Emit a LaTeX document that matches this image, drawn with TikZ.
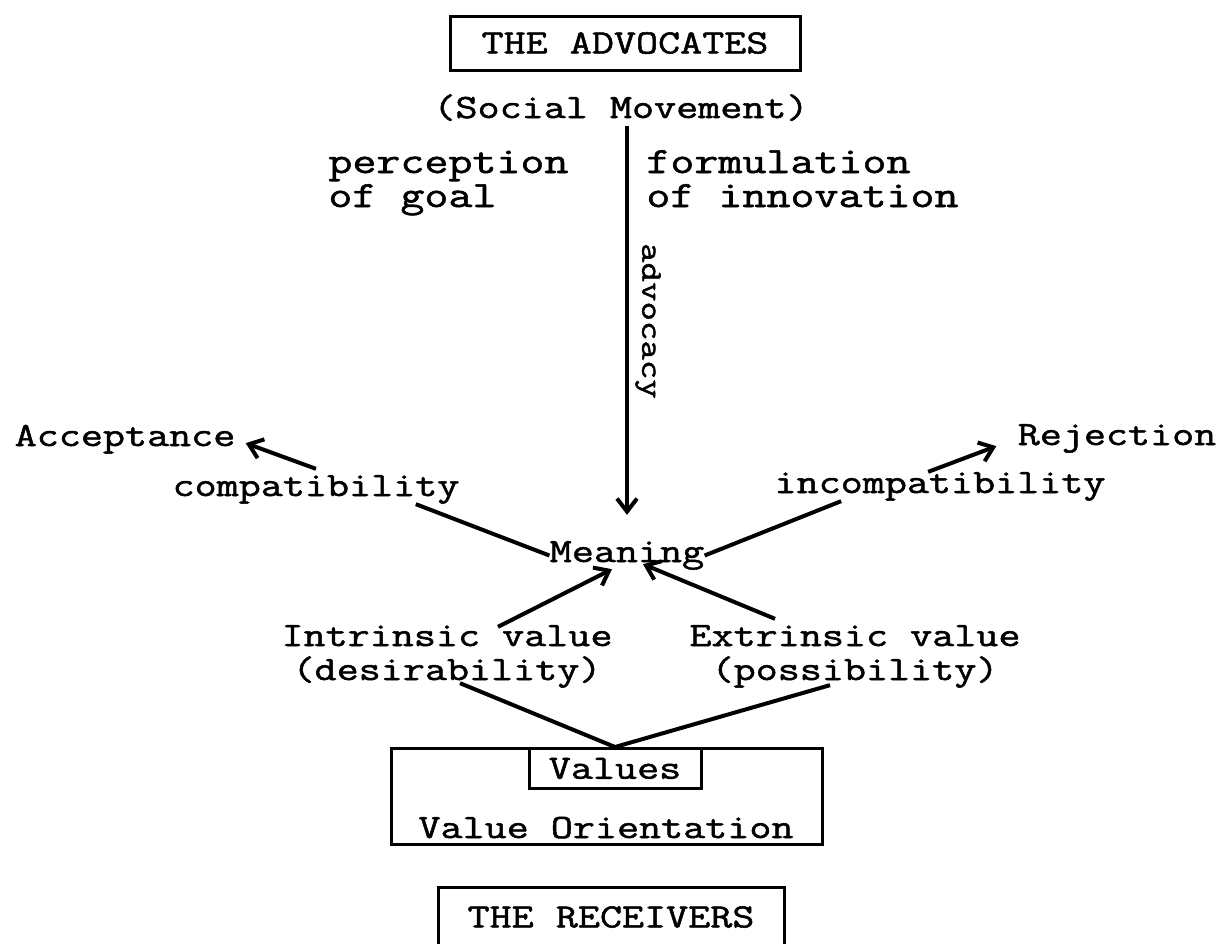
\documentclass[tikz,border=0pt]{standalone}
\usepackage{fontspec}
\newfontfamily\typewr{Latin Modern Mono}[FakeStretch=1.26, FakeBold=1.5]
\usetikzlibrary{arrows.meta,calc}
\setlength{\lineskiplimit}{-10pt}

\tikzset{
  txt/.style={font=\typewr\fontsize{17}{17}\selectfont, inner sep=0pt},
  toptxt/.style={font=\typewr\fontsize{18.5}{17}\selectfont, inner sep=0pt, align=left},
  box/.style={draw, line width=1.5pt, font=\typewr\fontsize{17}{17}\selectfont},
  arr/.style={line width=2pt, -{Straight Barb[length=6.5pt,width=10pt]}},
  ln/.style={line width=2pt},
}

\begin{document}
\begin{tikzpicture}[x=0.5pt,y=-0.5pt]
\useasboundingbox (0,0) rectangle (1224,943);

% the advocates
\node[box, minimum width=175pt, minimum height=27pt] (adv) at (625,43) {THE ADVOCATES};
\node[txt, anchor=base] (sm) at (621,118) {(Social Movement)};
\node[toptxt, anchor=base west] (perc) at (328,207) {perception\\of goal};
\node[toptxt, anchor=base west] (form) at (646,207) {formulation\\of innovation};
\node[txt, rotate=-90, font=\typewr\fontsize{15}{15}\selectfont] (advo) at (648,321) {advocacy};

% meaning and outcomes
\node[txt, anchor=base] (mean) at (627,562) {Meaning};
\node[txt, anchor=base] (acc) at (125,446) {Acceptance};
\node[txt, anchor=base] (rej) at (1117,445) {Rejection};
\node[txt, anchor=base] (comp) at (316,496) {compatibility};
\node[txt, anchor=base] (incomp) at (940,493) {incompatibility};

% the receivers
\node[txt, align=center, anchor=base] (intr) at (447,680) {Intrinsic value\\(desirability)};
\node[txt, align=center, anchor=base] (extr) at (855,680) {Extrinsic value\\(possibility)};
\node[box, minimum width=215.5pt, minimum height=48pt, anchor=north] (vo) at (607,747) {};
\node[box, minimum width=86pt, minimum height=20pt, anchor=north] (vals) at (615,747) {Values};
\node[txt, anchor=base] (voname) at (606,838) {Value Orientation};
\node[box, minimum width=173pt, minimum height=30pt] (rcv) at (611,917) {THE RECEIVERS};

% connectors
\draw[arr] ($(sm.south -| mean.north)+(0,5)$) -- ($(mean.north)+(0,-26)$);
\draw[arr] ($(comp.north)+(0,-6)$) -- ($(acc.east)+(10,4)$);
\draw[ln] ($(comp.south east)+(-44,0)$) -- (mean.west);
\draw[ln] (mean.east) -- ($(incomp.south west)+(67,0)$);
\draw[arr] ($(incomp.north west)+(154,0)$) -- ($(rej.south west)+(-21,-7)$);
\draw[arr] ($(intr.north)+(51,2)$) -- ($(mean.south)+(-15,-1)$);
\draw[arr] ($(extr.north)+(-80,-6)$) -- ($(mean.south)+(16,-6)$);
\draw[ln] ($(intr.south)+(13,-5)$) -- (vals.north) -- ($(extr.south)+(-25,-3)$);
\end{tikzpicture}
\end{document}
